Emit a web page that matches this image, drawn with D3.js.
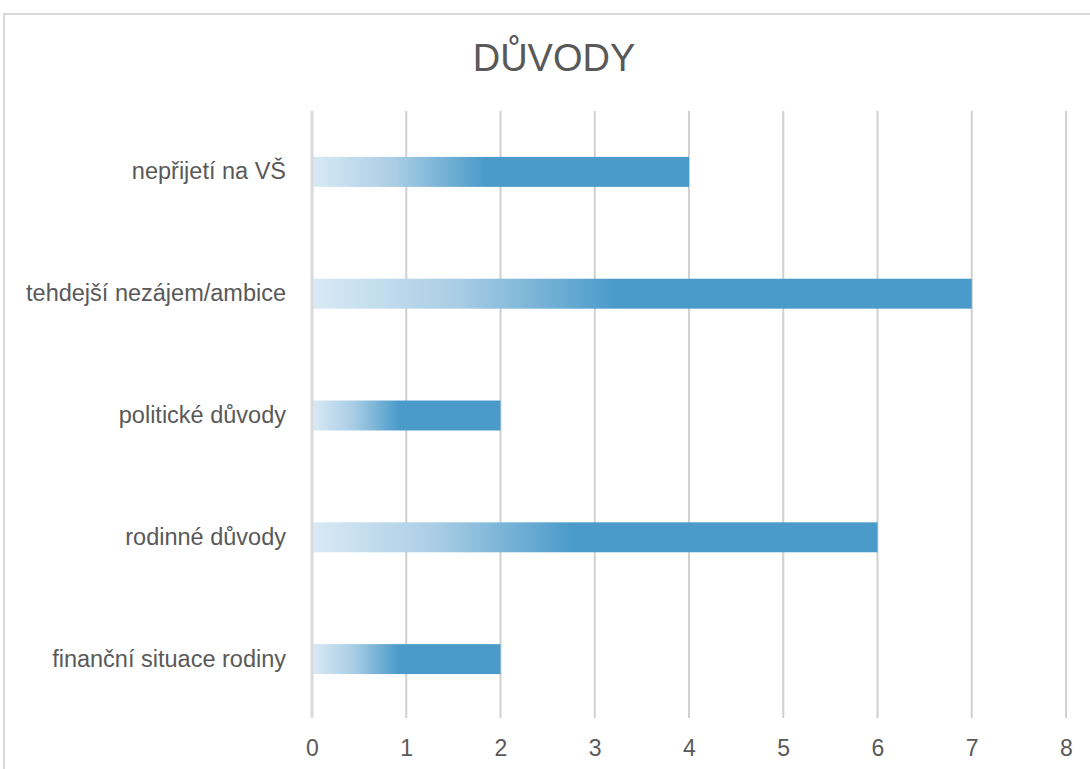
<!DOCTYPE html>
<html>
<head>
<meta charset="utf-8">
<script src="https://cdn.jsdelivr.net/npm/d3@7"></script>
<style>
  html, body { margin: 0; padding: 0; background: #fff; }
  svg { display: block; }
  text { font-family: "Liberation Sans", Arial, sans-serif; fill: #595959; }
</style>
</head>
<body>
<svg id="chart" width="1090" height="769"></svg>
<script>
// Reasons (top to bottom) and how many respondents named each
const categories = ["nepřijetí na VŠ", "tehdejší nezájem/ambice", "politické důvody", "rodinné důvody", "finanční situace rodiny"];
const values = [4, 7, 2, 6, 2];
const tickValues = [0, 1, 2, 3, 4, 5, 6, 7, 8];
const title = "DŮVODY";

const svg = d3.select("#chart");
const W = 1090, H = 769;
const plot = { left: 312, right: 1066, top: 111, bottom: 720 };

// chart frame (runs past the right and bottom edges)
svg.append("rect")
  .attr("x", 4).attr("y", 14)
  .attr("width", W + 20).attr("height", H + 20)
  .attr("fill", "#fff").attr("stroke", "#d9d9d9").attr("stroke-width", 2);

const x = d3.scaleLinear().domain([0, 8]).range([plot.left, plot.right]);
const y = d3.scaleBand().domain(categories).range([plot.top, plot.bottom]).paddingInner(0.754).paddingOuter(0.377);

// horizontal fade used on every bar
const defs = svg.append("defs");
const grad = defs.append("linearGradient")
  .attr("id", "barFade")
  .attr("x1", "0%").attr("x2", "100%").attr("y1", "0%").attr("y2", "0%");
grad.append("stop").attr("offset", "0%").attr("stop-color", "#d9eaf5");
grad.append("stop").attr("offset", "22%").attr("stop-color", "#a9cde5");
grad.append("stop").attr("offset", "46%").attr("stop-color", "#4a9bca");
grad.append("stop").attr("offset", "100%").attr("stop-color", "#4a9bca");

// vertical gridlines
svg.append("g")
  .selectAll("line")
  .data(tickValues.filter(d => d !== 0))
  .join("line")
  .attr("x1", d => x(d)).attr("x2", d => x(d))
  .attr("y1", plot.top).attr("y2", plot.bottom - 2)
  .attr("stroke", "#d0d0d0").attr("stroke-width", 2);

// bars
svg.append("g")
  .selectAll("rect")
  .data(categories.map((c, i) => ({ c, v: values[i] })))
  .join("rect")
  .attr("x", x(0))
  .attr("y", d => y(d.c))
  .attr("width", d => x(d.v) - x(0))
  .attr("height", y.bandwidth())
  .attr("fill", "url(#barFade)");

// value axis baseline
svg.append("line")
  .attr("x1", x(0)).attr("x2", x(0))
  .attr("y1", plot.top).attr("y2", plot.bottom - 2)
  .attr("stroke", "#d9d9d9").attr("stroke-width", 3);

// x tick labels
const xAxis = d3.axisBottom(x).tickValues(tickValues).tickSize(0).tickPadding(0).tickFormat(d3.format("d"));
const gx = svg.append("g").attr("transform", `translate(0, ${plot.bottom + 36})`).call(xAxis);
gx.select(".domain").remove();
gx.selectAll("text").attr("font-size", 23).attr("dy", 0).attr("fill", "#595959")
  .style("font-family", "'Liberation Sans', Arial, sans-serif");

// category labels
const yAxis = d3.axisLeft(y).tickSize(0).tickPadding(0);
const gy = svg.append("g").attr("transform", `translate(${plot.left - 26}, 0)`).call(yAxis);
gy.select(".domain").remove();
gy.selectAll("text").attr("font-size", 23.5).attr("fill", "#595959")
  .style("font-family", "'Liberation Sans', Arial, sans-serif");

// title
svg.append("text")
  .attr("x", 554).attr("y", 71)
  .attr("text-anchor", "middle")
  .attr("font-size", 38)
  .text(title);
</script>
</body>
</html>
